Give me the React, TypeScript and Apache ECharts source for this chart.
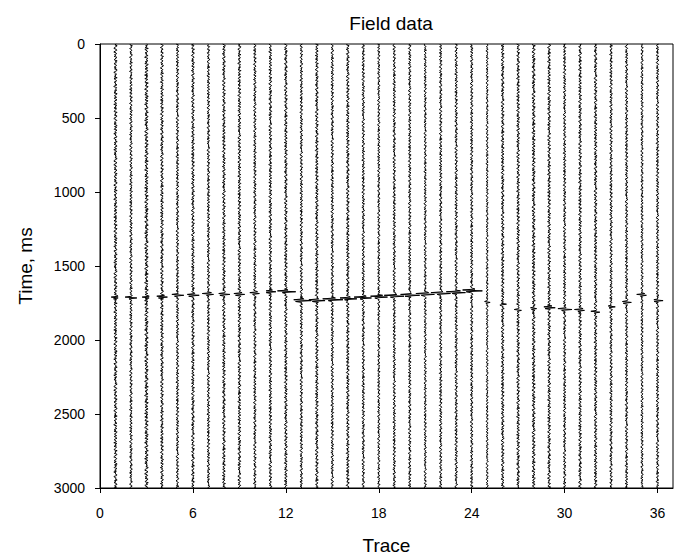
import React, { useEffect, useRef } from "react";
import * as echarts from "echarts";

// Trace positions (x axis) and event picks
const traceX = [1, 2, 3, 4, 5, 6, 7, 8, 9, 10, 11, 12, 13, 14, 15, 16, 17, 18, 19, 20, 21, 22, 23, 24, 25, 26, 27, 28, 29, 30, 31, 32, 33, 34, 35, 36];
const eventTime = [1715, 1715, 1715, 1710, 1700, 1700, 1695, 1695, 1690, 1685, 1675, 1672, 1735, 1732, 1728, 1722, 1716, 1710, 1702, 1696, 1690, 1684, 1678, 1668, 1745, 1760, 1800, 1790, 1780, 1795, 1800, 1810, 1775, 1745, 1700, 1735];
const eventAmp = [0.28, 0.32, 0.25, 0.32, 0.32, 0.35, 0.35, 0.32, 0.32, 0.35, 0.4, 0.65, 0.6, 0.62, 0.6, 0.62, 0.6, 0.6, 0.62, 0.6, 0.62, 0.6, 0.62, 0.75, 0.12, 0.18, 0.3, 0.3, 0.35, 0.4, 0.35, 0.35, 0.3, 0.25, 0.3, 0.35];
const noiseAmp = [0.12, 0.1, 0.13, 0.11, 0.1, 0.11, 0.1, 0.11, 0.11, 0.1, 0.11, 0.11, 0.1, 0.11, 0.1, 0.11, 0.1, 0.09, 0.1, 0.1, 0.09, 0.1, 0.1, 0.1, 0.08, 0.11, 0.11, 0.12, 0.11, 0.1, 0.11, 0.11, 0.1, 0.1, 0.09, 0.1];
const noiseShift = [0, 17, 33, 5, 48, 71, 12, 90, 26, 61, 39, 84, 7, 55, 22, 95, 44, 68, 3, 79, 31, 58, 14, 87, 40, 66, 9, 75, 28, 52, 19, 93, 36, 81, 11, 63];
const noise = [0.5, -0.3, 0.9, 0.2, -0.6, -0.8, 0.4, 0.7, -0.2, -0.9, 0.3, 0.6, -0.5, 0.1, -0.7, 0.8, 0.3, -0.4, -0.6, 0.9, -0.1, 0.5, -0.8, -0.3, 0.6, 0.2, -0.7, 0.4, -0.5, 0.8, 0.7, -0.2, -0.9, 0.1, 0.6, -0.4, 0.3, -0.6, 0.9, -0.8, -0.2, 0.5, 0.4, -0.7, 0.2, -0.3, 0.8, -0.5, -0.9, 0.6, 0.3, -0.1, 0.7, -0.6, 0.2, -0.8, 0.9, 0.4, -0.5, -0.3, 0.6, -0.7, 0.1, 0.8, -0.4, -0.6, 0.3, 0.5, -0.9, 0.7, -0.2, 0.4, -0.8, 0.6, 0.1, -0.5, -0.7, 0.9, -0.3, 0.2, -0.6, 0.8, 0.5, -0.4, -0.9, 0.3, 0.7, -0.1, -0.6, 0.4, -0.8, 0.2, 0.9, -0.5, 0.6, -0.3, -0.7, 0.8, 0.1, -0.4, 0.5, -0.9, 0.3, -0.2, 0.7, 0.6, -0.8, -0.5, 0.4, -0.1, 0.9, -0.6, 0.2, -0.7, 0.5, 0.8, -0.3, -0.4, 0.6, -0.9, 0.1, 0.7, -0.5, 0.3, -0.8, 0.4, -0.2];
const wavelet = [0.3, -0.9, 1.0, -0.5];
const waveletCenter = 2;
const sampleStep = 6; // ms
const tMax = 3000;
const xTicks = [0, 6, 12, 18, 24, 30, 36];

const FONT = "'Liberation Sans', Arial, Helvetica, sans-serif";

function buildTrace(k: number): number[][] {
  const out: number[][] = [];
  const n = tMax / sampleStep;
  for (let i = 0; i <= n; i++) {
    const t = i * sampleStep;
    let v = noiseAmp[k] * noise[(i + noiseShift[k]) % noise.length];
    const j = Math.round((t - eventTime[k]) / sampleStep) + waveletCenter;
    if (j >= 0 && j < wavelet.length) v += eventAmp[k] * wavelet[j];
    out.push([traceX[k] + v, t]);
  }
  return out;
}

export default function App() {
  const ref = useRef<HTMLDivElement>(null);
  useEffect(() => {
    if (!ref.current) return;
    const chart = echarts.init(ref.current, undefined, { renderer: "svg" });
    const series = traceX.map((_, k) => ({
      type: "line",
      data: buildTrace(k),
      showSymbol: false,
      symbol: "none",
      silent: true,
      lineStyle: { color: "#000", width: 1 },
    }));
    chart.setOption({
      animation: false,
      backgroundColor: "#fff",
      textStyle: { fontFamily: FONT },
      title: {
        text: "Field data",
        left: 386,
        top: 9,
        textAlign: "center",
        textStyle: { fontFamily: FONT, fontSize: 19, fontWeight: "normal", color: "#000" },
      },
      grid: { left: 100, right: 10, top: 44, bottom: 70, show: true, borderColor: "#000", borderWidth: 1, containLabel: false },
      xAxis: {
        type: "value",
        min: 0,
        max: 37,
        interval: 6,
        position: "bottom",
        name: "Trace",
        nameLocation: "middle",
        nameGap: 48,
        nameTextStyle: { fontFamily: FONT, fontSize: 19, color: "#000" },
        axisLine: { onZero: false, lineStyle: { color: "#000", width: 1 } },
        axisTick: { show: true, length: 5, inside: false, customValues: xTicks, lineStyle: { color: "#000" } },
        axisLabel: { customValues: xTicks, margin: 18, fontSize: 14, color: "#000", fontFamily: FONT, formatter: (v: number) => String(v) },
        splitLine: { show: false },
      },
      yAxis: {
        type: "value",
        min: 0,
        max: 3000,
        interval: 500,
        inverse: true,
        name: "Time, ms",
        nameLocation: "middle",
        nameGap: 65,
        nameTextStyle: { fontFamily: FONT, fontSize: 19, color: "#000" },
        axisLine: { show: true, onZero: false, lineStyle: { color: "#000", width: 1 } },
        axisTick: { show: true, length: 5, inside: false, lineStyle: { color: "#000" } },
        axisLabel: { margin: 15, fontSize: 14, color: "#000", fontFamily: FONT, formatter: (v: number) => String(v) },
        splitLine: { show: false },
      },
      series,
    });
    return () => chart.dispose();
  }, []);
  return (
    <div
      ref={ref}
      style={{ position: "fixed", left: 0, top: 0, width: 683, height: 560, background: "#fff" }}
    />
  );
}
